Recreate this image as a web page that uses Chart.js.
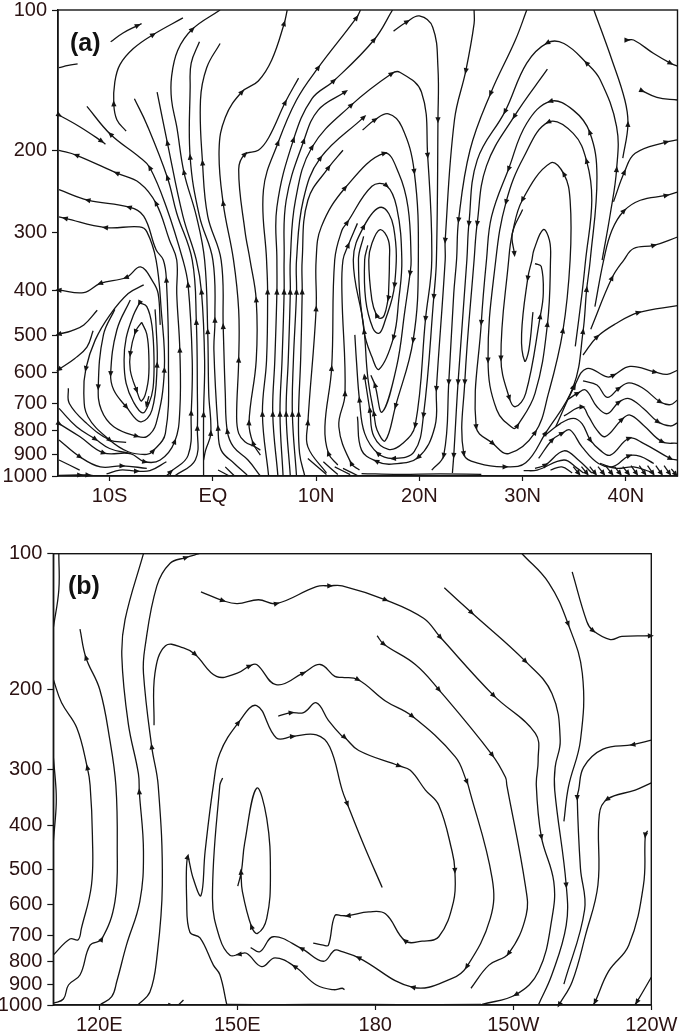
<!DOCTYPE html>
<html>
<head>
<meta charset="utf-8">
<script src="https://cdn.jsdelivr.net/npm/chart.js@4/dist/chart.umd.min.js"></script>
<style>
  html, body { margin: 0; padding: 0; background: #fff; }
  #page { position: relative; width: 684px; height: 1035px; overflow: hidden; }
  canvas { position: absolute; left: 0; }
  .tag { position: absolute; font: bold 25px "Liberation Sans", Arial, sans-serif; color: #111; line-height: 28px; }
</style>
</head>
<body>
<div id="page">
  <canvas id="chartA" width="684" height="520" style="top:0"></canvas>
  <canvas id="chartB" width="684" height="495" style="top:540px"></canvas>
  <div class="tag" style="left:70px;top:28px">(a)</div>
  <div class="tag" style="left:68px;top:571px">(b)</div>
</div>
<script>
// tick values and labels
const pressureTicks = [100, 200, 300, 400, 500, 600, 700, 800, 900, 1000];
const latTicks = [-10, 0, 10, 20, 30, 40];
const latLabels = ['10S', 'EQ', '10N', '20N', '30N', '40N'];
const lonTicks = [120, 150, 180, 210, 240];
const lonLabels = ['120E', '150E', '180', '150W', '120W'];

// panel (a) streamlines: [latitude, pressure hPa], third value 1 = arrowhead at that point
const a1 = [[-9.9,117],[-8.7,112],[-7.3,108,1],[-6.9,107]];
const a2 = [[-14.9,133],[-14,131.5],[-13.1,130.5]];
const a3 = [[-8.4,182],[-9.3,172],[-9.6,159,1],[-9.5,143],[-9,131],[-7.7,121],[-5.8,113,1],[-2.9,104]];
const a4 = [[-14.9,168,1],[-12.9,178],[-10.8,191,1],[-10.4,194]];
const a5 = [[-5.1,474],[-5.3,406],[-5.8,383],[-7,356],[-8.4,375,1],[-10.9,386,1],[-12.5,404],[-14.9,399,1]];
const a6 = [[-6.7,389],[-8.2,406],[-10,452],[-11.4,511],[-12.3,588,1],[-12.5,665],[-12.1,746],[-10,837,1],[-8.2,887],[-6.4,899],[-5.8,884,1],[-4.6,810],[-4.3,564],[-4.5,380,1],[-4.8,344],[-5.5,327],[-6.7,277],[-8.1,265,1],[-12.1,256,1],[-14.9,243]];
const a7 = [[-9.5,439],[-10.6,498],[-11.1,644,1],[-10.8,722],[-9.6,784],[-7.4,821,1],[-6.4,823],[-5.5,772],[-4.7,593,1],[-5,441],[-5.5,344],[-6.4,299],[-7.1,292],[-10.4,293,1],[-14.3,280,1],[-14.9,278]];
const a8 = [[-8,419],[-9.3,486],[-9.9,603,1],[-9.6,654],[-8.4,710,1],[-7,765],[-5.9,722],[-5.4,578,1],[-5.5,476],[-5.6,439]];
const a9 = [[-7.1,425,1],[-7.7,452],[-8.4,506],[-8.6,564],[-8.4,633],[-7.7,693],[-6.8,732],[-6.2,699],[-5.8,649],[-5.7,564],[-5.9,476],[-6.4,433],[-7.1,425]];
const a10 = [[-6.9,468],[-7.5,490,1],[-8,546,1],[-8,593],[-7.4,654,1],[-6.9,690],[-6.3,633],[-6.2,555],[-6.4,496],[-6.9,468]];
const a11 = [[-6.2,674],[-6.4,702,1]];
const a12 = [[-11.2,441],[-12.5,474],[-13.7,488],[-14.9,496,1]];
const a13 = [[-11.6,488],[-12.2,529],[-13.4,560],[-14.9,590,1]];
const a14 = [[-14,648],[-13.9,699],[-12.2,772],[-10,837],[-8.4,847]];
const a15 = [[-14.9,716],[-13.2,784],[-11.4,833,1],[-10,873],[-8,895]];
const a16 = [[-14.9,772,1],[-12.9,823],[-10.6,892,1],[-8,895],[-6.6,932,1],[-5.1,924],[-3.7,844,1],[-3.2,722],[-3.2,537,1],[-3.5,406],[-3.5,344],[-4.2,312],[-5.5,260,1],[-7.1,235],[-9.3,224,1],[-13.2,205,1],[-14.9,200]];
const a17 = [[-14.9,837],[-12.9,909,1],[-10.9,956],[-8.8,951,1],[-6.4,963]];
const a18 = [[-14.9,924],[-12.9,971]];
const a19 = [[-14.9,997],[-12.9,995,1],[-12.1,995,1],[-11.3,1000]];
const a20 = [[-10.3,990],[-9,971],[-7.4,976,1],[-6.1,974],[-4.5,932]];
const a21 = [[-4.5,1000],[-4.1,980,1],[-2.4,903],[-2.1,733,1],[-2,564],[-2.4,389,1],[-2.9,344],[-4.5,265],[-6.1,218,1],[-7.1,207],[-9.9,185,1],[-12.2,161]];
const a22 = [[-3.7,1000],[-1.7,924],[-1.5,790,1],[-1.5,665],[-1.6,468,1],[-2,344],[-3.5,273],[-4.4,229,1],[-6.4,176],[-7.6,155]];
const a23 = [[-0.9,1000],[-0.9,739,1],[-0.8,564],[-1.1,403,1],[-1.6,344],[-2.9,277],[-4.4,193,1],[-5.4,150]];
const a24 = [[-0.9,924],[-0.7,880],[-0.2,810,1],[-0.4,665],[-0.5,490,1],[-0.8,344],[-1.6,277],[-2.8,223,1],[-3.5,178],[-4,156],[-4,139],[-3.4,122],[-2,110,1],[0.7,100]];
const a25 = [[3.4,1000],[3.1,985],[2.1,941],[0.8,880],[0.5,790,1],[0.1,537],[0.2,463,1],[0,344],[-1.3,277],[-2.2,207,1],[-2.2,146],[-2.1,130],[-1.3,117]];
const a26 = [[4.6,1000],[3.4,924],[2,866],[1.4,802,1],[1.2,665],[1,478,1],[0.8,344],[-0.5,277],[-1,213,1],[-1.2,156],[-0.6,133],[0.7,118]];
const a27 = [[4.6,880],[4.1,866],[3.1,844],[2.5,810],[2.3,746],[2.5,564,1],[2.5,441],[2,344],[1,260,1],[0.6,200],[1.2,170],[2.8,150,1],[4.4,142],[5.7,128],[6.9,107,1],[7.2,100]];
const a28 = [[4.6,902],[3.9,851,1],[3.5,769,1],[4.2,564],[4.2,419,1],[3.6,344],[3.1,297],[2.5,220],[3.1,204,1],[4.4,200],[5.4,188],[7,158,1],[8.3,140]];
const a29 = [[5.4,1000],[4.8,737,1],[5.2,564],[5.3,403,1],[5.2,344],[4.9,243],[6.3,193,1],[8.1,156],[10.2,133,1],[13.9,104,1],[14.3,100]];
const a30 = [[6.3,1000],[5.8,737,1],[6,564],[6.2,403,1],[6.2,344],[6.2,265],[7.8,190,1],[9.6,155],[11.7,142,1],[15.6,116,1],[17.4,100]];
const a31 = [[6.8,1000],[6.5,737,1],[6.7,564],[6.9,403,1],[6.9,344],[7.1,256],[8.8,191,1],[10.2,164],[12.8,150,1]];
const a32 = [[7.5,1000],[7.1,737,1],[7.3,564],[7.5,403,1],[7.5,344],[8,256],[9.6,197,1],[13.4,160,1],[17.3,137,1],[18.1,136],[20.2,150],[20.8,205,1],[21.2,344],[20.6,459,1],[19.6,778,1],[18.4,851],[17,877],[15.6,823],[15.2,722,1],[14.7,613,1]];
const a33 = [[8.1,1000],[7.7,737,1],[7.8,564],[8.1,403,1],[8.1,344],[8.75,256],[10.4,208,1],[14.6,170,1]];
const a34 = [[8.9,1000],[8.4,895],[8.3,737,1],[8.5,564],[8.65,403,1],[8.65,344],[9.2,256],[11.2,218,1],[12.6,200]];
const a35 = [[17.5,111],[18.8,106,1],[20,103],[21.3,109],[21.8,133],[21.8,172,1],[21.65,344],[21.4,412,1],[20.4,740,1],[19.5,887],[17.5,917,1],[16,895,1],[14.7,810],[14.2,687,1],[13.9,564],[13.75,498]];
const a36 = [[14.5,181],[15.7,172,1],[17,167],[18.3,178],[19.5,222,1],[19.9,344],[19.4,511,1],[17.7,707,1],[16.7,840],[15.9,797],[15.6,735,1],[15,613],[14.6,476],[13.6,344],[14.6,292,1],[16.3,265],[17.5,292],[17.6,389,1],[16.6,470],[16.1,494],[15.5,482],[14.8,419],[14.7,344],[15,320]];
const a37 = [[11,985],[9.2,866],[9.2,769,1],[10,438,1],[10,344],[10.5,292],[12.8,241,1],[16.6,203,1],[18,224],[18.9,265],[19.2,344],[19.1,367,1],[18.6,441],[17.8,582],[16.4,729],[15.7,638,1],[15.3,608]];
const a38 = [[12.1,947],[11.2,895,1],[10.85,784],[11.5,588,1],[11.8,344],[12.5,297],[13,286,1],[15.4,239],[16.8,238,1],[17.8,265],[18.3,344],[18,419],[17.5,504,1],[16.1,590],[15.4,555],[14.65,490,1],[14.1,344],[14.6,306]];
const a39 = [[14.2,971],[13.4,940,1],[12.2,784],[12.8,666,1],[12.5,406],[12.6,344],[13.1,320,1],[14,287]];
const a40 = [[17,415,1],[16.6,452],[16.2,459],[15.85,452,1],[15.4,419],[15.1,344],[15.4,317],[16.2,296],[17,312],[17.1,344],[17,415]];
const a41 = [[25.3,100],[25.3,107],[24.5,135,1],[23.4,172],[22.5,312,1],[22.5,344],[21.65,649,1],[21.5,784],[19.9,911,1],[17.3,943],[15.85,930,1],[14.4,880],[14,746]];
const a42 = [[30.4,100],[29.3,116],[26.9,151,1],[24.9,200],[23.8,282,1],[23.6,344],[23.33,406],[22.85,628,1],[22.36,903,1],[21.2,971]];
const a43 = [[37.7,344],[38.5,273],[39.1,220,1],[39.1,178],[37.5,141],[36.2,130,1],[34,118],[32.4,117.6,1],[30.4,130],[28.3,165,1],[25.6,210],[24.8,287,1],[24.6,344],[23.75,628,1],[23.33,903,1],[23.2,985]];
const a44 = [[32.4,134],[29.2,169,1],[26.5,216],[25.6,287,1],[25.3,344],[24.4,628,1],[24.3,895,1],[25.75,940],[28.3,956,1],[30.3,937],[32.2,810,1],[34.9,644,1],[35.85,490,1],[36.2,398,1],[36.55,344],[37.2,228],[36.5,183,1],[34.9,164],[32.7,157,1],[30.4,175],[28.65,219,1],[27,277],[26.5,344],[26,468,1],[25.5,784,1],[27.1,851,1],[28.65,895],[31.2,807,1],[32.5,665],[33.9,488,1],[34.6,344],[34.6,256],[34,225,1],[32.7,213],[30,255,1],[29,302],[28.65,344],[27.9,558,1],[28.7,679,1],[29.3,710],[30.3,665],[31.7,455,1],[32,406],[31.8,355],[31.2,350]];
const a45 = [[35.1,527],[35.75,406],[36.1,344],[36.7,256],[36.2,211,1],[34.9,184],[32.5,174,1],[30.1,207],[28.4,258,1],[27.4,344],[26.65,564,1],[27.5,722],[29.1,790],[29.5,780,1],[31.2,665],[32.4,473,1],[32.7,344],[32.6,312],[32,296],[31.1,327],[30.9,344],[30.5,376,1],[29.9,496],[30.2,567],[30.6,537],[31,445]];
const a46 = [[30,268],[29,302],[29.2,333,1]];
const a47 = [[39.7,208],[40.2,176,1],[39.9,156],[38.65,128],[36.9,100]];
const a48 = [[38.8,258],[39.85,223,1],[40.9,203],[43.9,192,1],[45,190]];
const a49 = [[36.6,484],[38.65,376,1],[39.8,344],[40.75,325],[42.7,320,1],[45,307]];
const a50 = [[37,433],[37.85,344],[38.65,297],[39.8,270,1],[41.4,256],[43.9,250,1],[45,246]];
const a51 = [[35.85,550],[37.2,503,1],[39.1,470],[41.2,446,1],[45,431]];
const a52 = [[33.2,784],[35,643,1],[36.2,588],[38.2,613],[38.8,608,1],[40.4,582],[42.8,598,1],[44,605],[45,593]];
const a53 = [[35.85,625],[37.2,638],[38.2,678],[39.3,649,1],[40.3,631],[41.7,649],[43.3,693,1],[44.3,703],[45,687]];
const a54 = [[34.4,685],[35.3,665,1],[36.1,654],[37.2,710],[38.2,735],[39.3,695,1],[40.3,682],[41.7,716],[43.1,765,1],[44.3,781],[45,769]];
const a55 = [[34,743],[35.75,711,1],[36.4,746],[37.2,797],[38,823],[39.6,757,1],[40.4,740],[41.7,778],[43.5,844,1],[45,851]];
const a56 = [[32,823],[33.65,772],[34.9,752],[35.75,772],[36.55,837,1],[37.5,880],[38.5,902],[40.3,830,1],[41.7,851],[44.3,917,1],[45,924]];
const a57 = [[31.55,917],[32.85,837,1],[33.8,810,1],[34.6,797],[35.75,866],[37.35,940],[38.8,953],[40.3,905,1],[41.4,908],[42.7,940]];
const a58 = [[31.2,963],[32.2,947,1],[34,883],[35.4,924],[36.7,985]];
const a59 = [[30.1,974],[31.4,971],[34,924],[35.3,963],[35.9,985]];
const a60 = [[32.7,971],[33.8,956],[34.8,985]];
const a61 = [[37.5,940],[39.1,963],[40.75,956],[42.4,980]];
const a62 = [[40.1,116,1],[40.75,116],[42.7,124],[44.3,130,1],[45,132]];
const a63 = [[41.55,149,1],[43,154],[45,156]];
const a64 = [[9.2,917],[11,993]];
const a65 = [[10.7,932],[12.1,993]];
const a66 = [[11.8,956],[13.3,993]];
const a67 = [[12.6,963],[14.1,1000]];
const a68 = [[14.4,988],[18,992],[22,990],[26,992]];
const a69 = [[0.5,971],[1.6,1000]];
const a70 = [[1.2,956],[2.1,1000]];
const a71 = [[34.9,955],[35.4,985,1]];
const a72 = [[35.7,955],[36.2,985,1]];
const a73 = [[36.5,955],[37,985,1]];
const a74 = [[37.3,955],[37.8,985,1]];
const a75 = [[38.1,955],[38.6,985,1]];
const a76 = [[38.9,955],[39.4,985,1]];
const a77 = [[39.7,955],[40.2,985,1]];
const a78 = [[40.5,950],[41,985,1]];
const a79 = [[41.3,950],[41.8,985,1]];
const a80 = [[42.1,950],[42.6,985,1]];
const a81 = [[42.9,950],[43.4,985,1]];
const a82 = [[43.7,950],[44.2,985,1]];
const a83 = [[44.4,965],[44.8,990,1]];
const linesA = [a1,a2,a3,a4,a5,a6,a7,a8,a9,a10,a11,a12,a13,a14,a15,a16,a17,a18,a19,a20,a21,a22,a23,a24,a25,a26,a27,a28,a29,a30,a31,a32,a33,a34,a35,a36,a37,a38,a39,a40,a41,a42,a43,a44,a45,a46,a47,a48,a49,a50,a51,a52,a53,a54,a55,a56,a57,a58,a59,a60,a61,a62,a63,a64,a65,a66,a67,a68,a69,a70,a71,a72,a73,a74,a75,a76,a77,a78,a79,a80,a81,a82,a83];

// panel (b) streamlines: [longitude (deg east), pressure hPa], third value 1 = arrowhead
const b0 = [[110,282],[110.6,334],[110.6,366],[110,435]];
const b1 = [[111.2,100],[111.2,120.3],[110,146]];
const b2 = [[110,775],[113.6,714],[115.4,717],[116.1,677],[118.3,542],[118.5,420],[118,326],[117.4,298,1],[115.1,243],[111.8,214],[110,190]];
const b3 = [[110,991],[112.2,970],[113.3,903],[115.8,858],[118,737],[120.5,715,1],[123.4,590],[123.9,442],[123.6,326],[122.3,259],[120.1,200],[117.1,170,1],[115.8,147]];
const b4 = [[120.1,1000],[122.7,958],[123.8,887],[125.9,737],[128.8,590],[129.6,457],[128.7,337,1],[128.5,307],[126.3,238],[124.9,169],[125.6,140],[129.6,100]];
const b5 = [[128.5,997],[131,936],[132.5,787],[133.7,542],[132.8,326],[131.4,268,1],[129.6,184],[129.9,162],[132.5,118],[135.4,105],[138.8,102,1],[141.7,100]];
const b6 = [[131.9,240],[132.1,184],[134.4,160],[138.3,161.6],[140.8,167,1],[145.5,187],[150,184],[152.6,177.5,1],[154.2,176],[158.4,195],[164.3,184,1],[168,176],[171.2,187],[172.8,188],[176.2,190,1],[182.2,212],[188,229,1],[197.4,282],[199.9,320,1],[200.2,326],[205.4,524],[205,643],[199.9,822,1],[196.7,873],[188.2,914,1],[176.4,786,1],[172.8,762],[171.2,756],[168.7,800],[164,750,1],[157.8,706],[154.9,762],[152.9,746]];
const b7 = [[142.1,121.5],[146.8,127,1],[150,129],[154.6,126.5],[158.5,129,1],[167.2,118.3],[170.1,117.8,1],[172.8,117.8],[182.2,126.5,1],[190.5,139],[194.1,153,1],[205.7,206,1],[214.8,250],[215.4,287],[215,326],[216.1,424,1],[218.8,533],[218.4,643],[215.5,842],[210.6,948,1],[203.2,997]];
const b8 = [[180.4,152],[181.8,158.5,1],[188.7,176],[193.8,200,1],[205.4,279,1],[208.3,313],[208.6,326],[212.6,542],[212.8,632],[209,768,1],[204.7,816],[200.8,918]];
const b9 = [[195,119],[200.9,135,1],[212.6,173,1],[218.4,204],[220.2,259],[219.1,297],[219,334],[221.5,542,1],[221.5,666],[218.4,856],[215.5,997]];
const b10 = [[211.9,100],[217.7,116],[221.9,143,1],[225,184],[224.6,259],[222,328],[221,392]];
const b11 = [[222.8,109.7],[226,141.5],[227.3,148,1],[231.1,155],[233.6,152.5],[239.8,152,1]];
const b12 = [[240,259],[236,265,1],[229.5,271],[225.3,297],[224.2,334],[223.9,347,1],[224.6,498],[225.5,615],[221,899]];
const b13 = [[240,322],[236.5,334],[230.4,350,1],[228.7,378],[228.4,542],[225.7,700],[222.8,888],[220,997,1]];
const b14 = [[239.2,411],[238.7,420,1],[238.3,542],[235.1,737],[230.7,842],[227.8,983,1],[227.3,1000]];
const b15 = [[240,868],[236.9,983,1],[236.4,1000]];
const b16 = [[147.7,997],[146.2,856],[144.8,816],[141.9,710],[139.7,690],[139,590],[139.2,470,1],[140.4,524],[142.1,572],[143,457],[144.8,326],[146.2,277],[150.2,237,1],[154.2,217],[158.5,256],[162,254,1],[167.2,252],[170.1,268],[172.8,334],[173.9,358,1],[177.5,442],[181.5,549]];
const b17 = [[173.3,925],[172.8,918],[170.9,925],[167.2,903],[162.5,822,1],[158.2,786],[155.3,822],[152,768],[150.4,772,1],[148.4,776],[146.2,712],[144.6,580],[146.2,326],[146.8,314]];
const b18 = [[158.9,229],[161.7,225,1],[164.4,225],[167.2,214],[169.8,234],[172.8,254],[173.3,255,1],[176.4,273],[185.1,295,1],[187.6,302],[190.9,334],[193.8,361],[196.7,457],[197.3,503,1],[197,590],[193.8,706],[190.2,722],[186.5,721,1],[182.2,628],[178.6,622],[174.1,634,1],[172.8,634],[171.2,634],[169.8,737],[168.7,737],[166.5,729]];
const b19 = [[150.1,545],[150.9,505],[151.6,438],[154.2,331],[156.4,386],[157.2,514],[156.4,643],[154.4,694],[153.1,671,1],[151.1,560],[150.8,508,1]];
const b20 = [[135,991],[135.7,1000]];
const b21 = [[138.3,975],[137.2,1000]];
const b22 = [[147.7,997],[160,998],[172,997],[185,998],[203,997]];
const linesB = [b0,b1,b2,b3,b4,b5,b6,b7,b8,b9,b10,b11,b12,b13,b14,b15,b16,b17,b18,b19,b20,b21,b22];

const inkColor = '#141414';
const labelColor = '#2b1212';
const tickFont = { family: '"Liberation Sans", Arial, sans-serif', size: 20 };

// box round the plot and the arrowheads on the streamlines
const streamPlugin = {
    id: 'stream',
    afterDatasetsDraw(chart) {
        const c = chart.ctx;
        const area = chart.chartArea;
        c.save();
        c.fillStyle = inkColor;
        chart.data.datasets.forEach((ds, d) => {
            const pts = chart.getDatasetMeta(d).data;
            ds.arrowAt.forEach(i => {
                const a = pts[Math.max(i - 1, 0)];
                const b = pts[Math.min(i + 1, pts.length - 1)];
                const ang = Math.atan2(b.y - a.y, b.x - a.x);
                c.save();
                c.translate(pts[i].x, pts[i].y);
                c.rotate(ang);
                c.beginPath();
                c.moveTo(3.5, 0);
                c.lineTo(-2.5, 2.6);
                c.lineTo(-2.5, -2.6);
                c.closePath();
                c.fill();
                c.restore();
            });
        });
        c.strokeStyle = inkColor;
        c.lineWidth = 1.4;
        c.strokeRect(area.left, area.top, area.right - area.left, area.bottom - area.top);
        c.restore();
    }
};

function makeDatasets(lines) {
    return lines.map(line => ({
        data: line.map(p => ({ x: p[0], y: p[1] })),
        arrowAt: line.map((p, i) => (p[2] ? i : -1)).filter(i => i >= 0),
        showLine: true,
        borderColor: inkColor,
        borderWidth: 1.3,
        tension: 0.4,
        pointRadius: 0
    }));
}

function makeChart(id, lines, xMin, xMax, xTicks, xLabels, box) {
    return new Chart(document.getElementById(id), {
        type: 'scatter',
        data: { datasets: makeDatasets(lines) },
        plugins: [streamPlugin],
        options: {
            responsive: false,
            animation: false,
            devicePixelRatio: 1,
            layout: { padding: { top: box.top, right: box.right, left: 0, bottom: 0 } },
            plugins: { legend: { display: false }, tooltip: { enabled: false } },
            scales: {
                x: {
                    type: 'linear',
                    min: xMin,
                    max: xMax,
                    afterBuildTicks: s => { s.ticks = xTicks.map(v => ({ value: v })); },
                    afterFit: s => { s.height = box.bottom; s.paddingLeft = 0; s.paddingRight = 0; },
                    border: { color: inkColor, width: 1.4 },
                    grid: { drawOnChartArea: false, tickLength: 5, color: inkColor, tickWidth: 1.2 },
                    ticks: {
                        color: labelColor, font: tickFont, padding: 3, autoSkip: false, maxRotation: 0,
                        callback: v => xLabels[xTicks.indexOf(v)]
                    }
                },
                y: {
                    type: 'logarithmic',
                    min: 100,
                    max: 1000,
                    reverse: true,
                    afterBuildTicks: s => { s.ticks = pressureTicks.map(v => ({ value: v })); },
                    // the tick labels must not push the plot box away from the top edge
                    afterFit: s => { s.width = box.left; s.paddingTop = 0; s.paddingBottom = 0; },
                    border: { color: inkColor, width: 1.4 },
                    grid: { drawOnChartArea: false, tickLength: 6, color: inkColor, tickWidth: 1.2 },
                    ticks: {
                        color: labelColor, font: tickFont, padding: 5, autoSkip: false,
                        callback: v => String(v)
                    }
                }
            }
        }
    });
}

makeChart('chartA', linesA, -15, 45, latTicks, latLabels, { left: 58, top: 10, right: 6.5, bottom: 44 });
makeChart('chartB', linesB, 110, 240, lonTicks, lonLabels, { left: 53.3, top: 13.7, right: 32.7, bottom: 30 });
</script>
</body>
</html>
